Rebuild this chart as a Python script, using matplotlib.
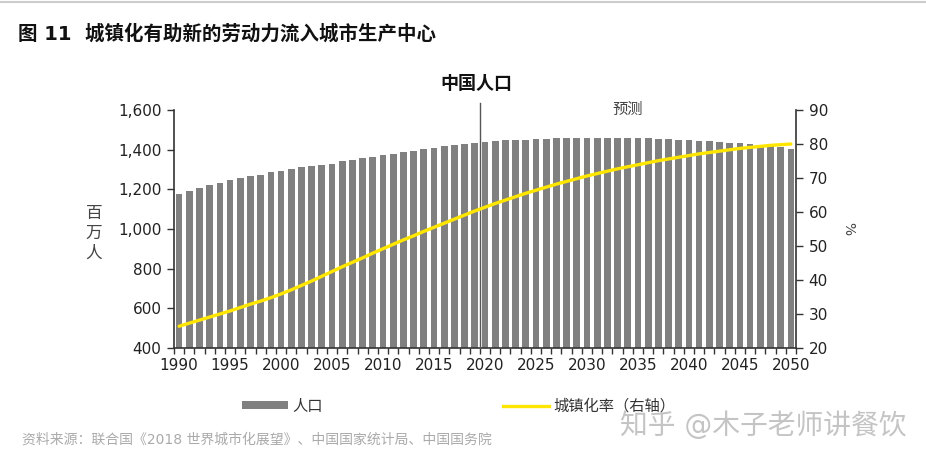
import numpy as np
import matplotlib
matplotlib.use('Agg')
from matplotlib import pyplot as plt
from matplotlib.patches import Patch
from matplotlib.lines import Line2D

plt.rcParams['font.family'] = ['DejaVu Sans', 'Noto Sans CJK SC']

years = list(range(1990, 2051))
population = [1178, 1192, 1208, 1220, 1233, 1245, 1257, 1265, 1273, 1285,
              1293, 1303, 1312, 1317, 1323, 1330, 1342, 1350, 1357, 1365,
              1372, 1378, 1388, 1395, 1402, 1408, 1417, 1423, 1430, 1435,
              1440, 1444, 1447, 1449, 1451, 1454, 1456, 1457, 1459, 1460,
              1461, 1461, 1461, 1460, 1459, 1458, 1457, 1455, 1452, 1450,
              1447, 1445, 1442, 1438, 1435, 1432, 1428, 1424, 1419, 1413,
              1405]
urban_rate = [26.4, 27.3, 28.2, 29.1, 30.0, 30.9, 31.9, 32.9, 33.8, 34.8,
              35.9, 37.1, 38.4, 39.7, 41.1, 42.5, 43.9, 45.2, 46.5, 47.9,
              49.2, 50.5, 51.8, 53.0, 54.3, 55.5, 56.7, 57.9, 59.1, 60.3,
              61.4, 62.5, 63.5, 64.5, 65.5, 66.4, 67.3, 68.2, 69.0, 69.8,
              70.6, 71.3, 72.0, 72.7, 73.3, 73.9, 74.5, 75.1, 75.6, 76.1,
              76.6, 77.1, 77.5, 77.9, 78.3, 78.7, 79.0, 79.3, 79.6, 79.8,
              80.0]
label_years = years[::5]
forecast_start = 2020

bar_color = '#808080'
line_color = '#FFE600'
axis_color = '#333333'
text_color = '#222222'


def main():
    fig = plt.figure(figsize=(9.26, 4.61), dpi=100)
    ax = fig.add_axes([174 / 926, 113 / 461, 622 / 926, 238 / 461])

    ax.bar(years, population, width=0.66, color=bar_color, zorder=2)
    ax.set_xlim(years[0] - 0.5, years[-1] + 0.5)
    ax.set_ylim(400, 1600)
    ax.set_yticks(np.arange(400, 1601, 200))
    ax.set_yticklabels([f'{v:,}' for v in range(400, 1601, 200)])

    ax.set_xticks(label_years)
    ax.set_xticklabels([str(y) for y in label_years])
    ax.set_xticks(np.arange(years[0] - 0.5, years[-1] + 1), minor=True)
    ax.tick_params(axis='x', which='major', length=0, pad=7,
                   labelsize=11, labelcolor=text_color)
    ax.tick_params(axis='x', which='minor', length=4, width=1,
                   color=axis_color, direction='out')
    ax.tick_params(axis='y', length=5, width=1, color=axis_color,
                   labelsize=11, labelcolor=text_color, pad=4)

    for side in ['top', 'right']:
        ax.spines[side].set_visible(False)
    for side in ['left', 'bottom']:
        ax.spines[side].set_color(axis_color)
        ax.spines[side].set_linewidth(1.2)

    # forecast divider
    ax.axvline(forecast_start - 0.5, ymin=0, ymax=1.03, color='#555555',
               lw=1, zorder=3, clip_on=False)

    ax2 = ax.twinx()
    ax2.plot(years, urban_rate, color=line_color, lw=2.4, zorder=4,
             solid_capstyle='round')
    ax2.set_ylim(20, 90)
    ax2.set_yticks(range(20, 91, 10))
    ax2.tick_params(axis='y', length=5, width=1, color=axis_color,
                    labelsize=11, labelcolor=text_color, pad=4)
    for side in ['top', 'left', 'bottom']:
        ax2.spines[side].set_visible(False)
    ax2.spines['right'].set_color(axis_color)
    ax2.spines['right'].set_linewidth(1.2)

    # texts
    fig.text(18 / 926, 1 - 34 / 461, '图 11  城镇化有助新的劳动力流入城市生产中心',
             fontsize=14, fontweight='bold', color='#111111', va='center')
    fig.text(476 / 926, 1 - 84 / 461, '中国人口', fontsize=13,
             fontweight='bold', color='#111111', ha='center', va='center')
    fig.text(628 / 926, 1 - 109 / 461, '预测', fontsize=11,
             color='#444444', ha='center', va='center')
    fig.text(94 / 926, 1 - 233 / 461, '百\n万\n人', fontsize=12,
             color='#444444', ha='center', va='center', linespacing=1.15)
    fig.text(848 / 926, 1 - 229 / 461, '%', fontsize=10, rotation=-90,
             color='#444444', ha='center', va='center')

    handles = [Patch(facecolor=bar_color, edgecolor='none'),
               Line2D([0], [0], color=line_color, lw=2.4)]
    fig.legend(handles, ['人口', '城镇化率（右轴）'], ncol=2, frameon=False,
               loc='center left', bbox_to_anchor=(228 / 926, 1 - 406 / 461),
               fontsize=11, handlelength=3.0, handleheight=0.5,
               handletextpad=0.3, columnspacing=11.8, labelcolor='#333333')

    fig.text(22 / 926, 1 - 440 / 461,
             '资料来源：联合国《2018 世界城市化展望》、中国国家统计局、中国国务院',
             fontsize=10, color='#aaaaaa', va='center')
    fig.text(620 / 926, 1 - 426 / 461, '知乎 @木子老师讲餐饮', fontsize=20,
             color='#c4c4c4', va='center')

    # thin top rule
    fig.add_artist(Line2D([0, 1], [1 - 2 / 461, 1 - 2 / 461],
                          color='#cccccc', lw=1.5))

    fig.savefig('out.png', dpi=100)


if __name__ == "__main__":
    main()
